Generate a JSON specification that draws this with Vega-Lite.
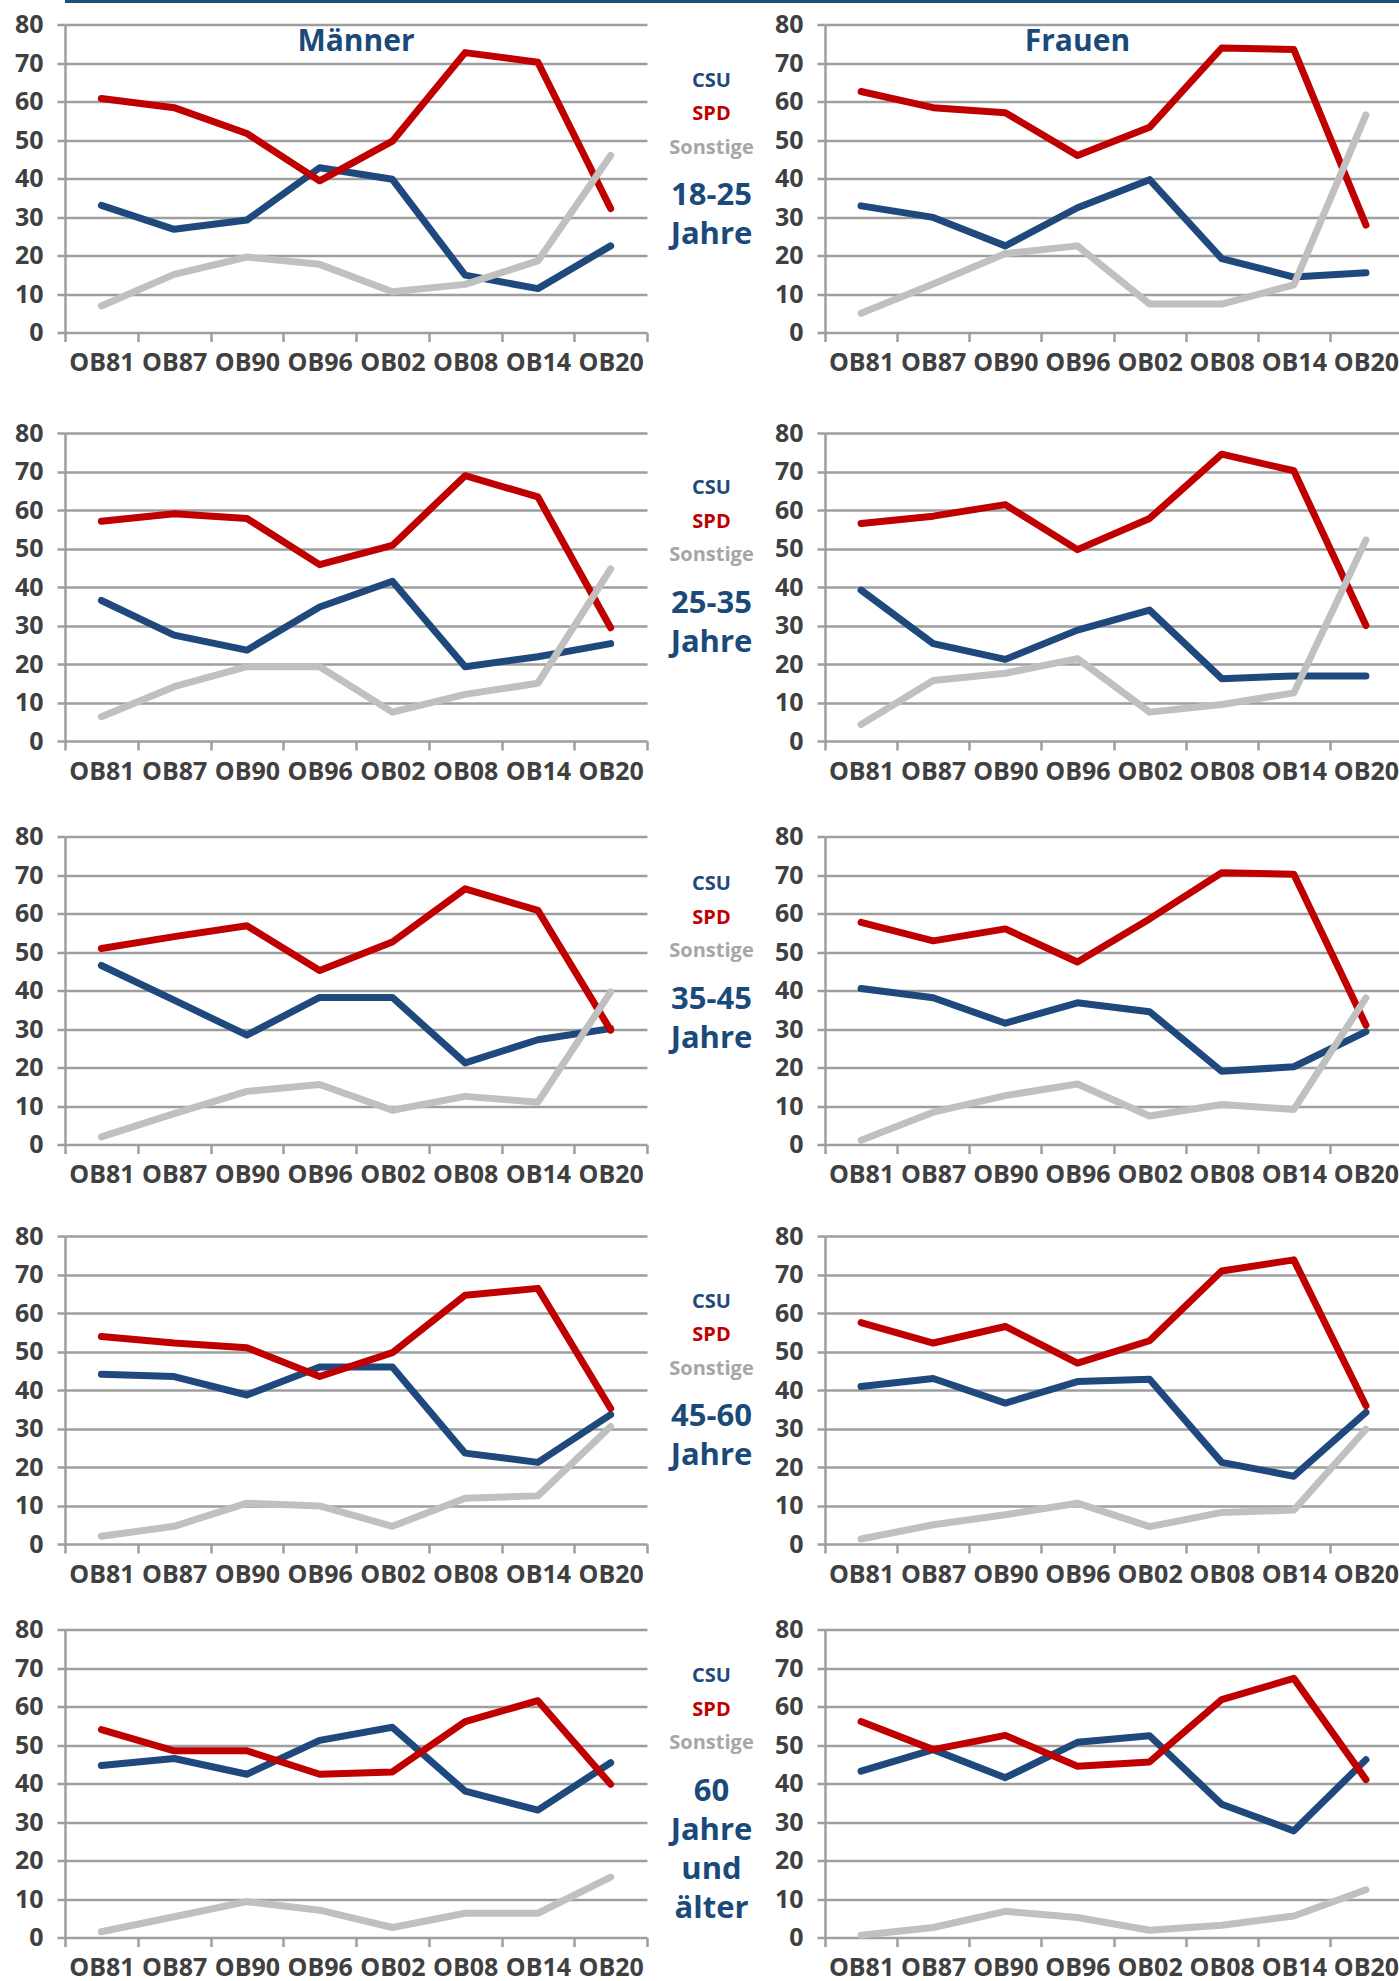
{
  "$schema": "https://vega.github.io/schema/vega-lite/v6.json",
  "padding": {"left": 14, "top": 0, "right": 0, "bottom": 0},
  "config": {
    "font": "Open Sans",
    "view": {"stroke": null},
    "axis": {"labelFont": "Open Sans", "labelFontSize": 25, "labelFontWeight": "bold", "labelColor": "#404040", "title": null, "gridColor": "#9E9E9E", "gridWidth": 2.5, "domainColor": "#9E9E9E", "domainWidth": 2.5, "tickColor": "#9E9E9E", "tickWidth": 2.5},
    "axisX": {"tickSize": 9, "labelPadding": 9, "tickBand": "extent", "grid": false, "domain": false, "labelAngle": 0, "labelOverlap": false},
    "axisY": {"tickSize": 8, "labelPadding": 14, "grid": true, "domain": true},
    "line": {"strokeWidth": 7, "strokeCap": "round", "strokeJoin": "round"}
  },
  "datasets": {
    "d": [
      {"g":"M","a":"18-25","w":"OB81","CSU":33.0,"SPD":60.8,"Sonstige":6.9},
      {"g":"M","a":"18-25","w":"OB87","CSU":26.8,"SPD":58.4,"Sonstige":15.1},
      {"g":"M","a":"18-25","w":"OB90","CSU":29.2,"SPD":51.7,"Sonstige":19.6},
      {"g":"M","a":"18-25","w":"OB96","CSU":42.8,"SPD":39.4,"Sonstige":17.7},
      {"g":"M","a":"18-25","w":"OB02","CSU":39.8,"SPD":49.7,"Sonstige":10.6},
      {"g":"M","a":"18-25","w":"OB08","CSU":14.9,"SPD":72.7,"Sonstige":12.5},
      {"g":"M","a":"18-25","w":"OB14","CSU":11.4,"SPD":70.2,"Sonstige":18.6},
      {"g":"M","a":"18-25","w":"OB20","CSU":22.5,"SPD":32.2,"Sonstige":46.0},
      {"g":"F","a":"18-25","w":"OB81","CSU":32.9,"SPD":62.6,"Sonstige":5.0},
      {"g":"F","a":"18-25","w":"OB87","CSU":29.9,"SPD":58.4,"Sonstige":12.6},
      {"g":"F","a":"18-25","w":"OB90","CSU":22.5,"SPD":57.1,"Sonstige":20.5},
      {"g":"F","a":"18-25","w":"OB96","CSU":32.4,"SPD":46.0,"Sonstige":22.5},
      {"g":"F","a":"18-25","w":"OB02","CSU":39.7,"SPD":53.3,"Sonstige":7.4},
      {"g":"F","a":"18-25","w":"OB08","CSU":19.2,"SPD":73.9,"Sonstige":7.4},
      {"g":"F","a":"18-25","w":"OB14","CSU":14.4,"SPD":73.5,"Sonstige":12.4},
      {"g":"F","a":"18-25","w":"OB20","CSU":15.5,"SPD":27.9,"Sonstige":56.5},
      {"g":"M","a":"25-35","w":"OB81","CSU":36.5,"SPD":57.1,"Sonstige":6.3},
      {"g":"M","a":"25-35","w":"OB87","CSU":27.5,"SPD":59.0,"Sonstige":14.1},
      {"g":"M","a":"25-35","w":"OB90","CSU":23.6,"SPD":57.8,"Sonstige":19.3},
      {"g":"M","a":"25-35","w":"OB96","CSU":34.8,"SPD":45.8,"Sonstige":19.3},
      {"g":"M","a":"25-35","w":"OB02","CSU":41.5,"SPD":50.8,"Sonstige":7.5},
      {"g":"M","a":"25-35","w":"OB08","CSU":19.3,"SPD":68.9,"Sonstige":12.1},
      {"g":"M","a":"25-35","w":"OB14","CSU":21.9,"SPD":63.4,"Sonstige":15.0},
      {"g":"M","a":"25-35","w":"OB20","CSU":25.3,"SPD":29.4,"Sonstige":44.7},
      {"g":"F","a":"25-35","w":"OB81","CSU":39.2,"SPD":56.5,"Sonstige":4.3},
      {"g":"F","a":"25-35","w":"OB87","CSU":25.3,"SPD":58.4,"Sonstige":15.7},
      {"g":"F","a":"25-35","w":"OB90","CSU":21.2,"SPD":61.4,"Sonstige":17.6},
      {"g":"F","a":"25-35","w":"OB96","CSU":28.8,"SPD":49.7,"Sonstige":21.4},
      {"g":"F","a":"25-35","w":"OB02","CSU":34.0,"SPD":57.8,"Sonstige":7.5},
      {"g":"F","a":"25-35","w":"OB08","CSU":16.2,"SPD":74.5,"Sonstige":9.5},
      {"g":"F","a":"25-35","w":"OB14","CSU":16.9,"SPD":70.2,"Sonstige":12.5},
      {"g":"F","a":"25-35","w":"OB20","CSU":16.9,"SPD":30.0,"Sonstige":52.2},
      {"g":"M","a":"35-45","w":"OB81","CSU":46.5,"SPD":50.9,"Sonstige":2.0},
      {"g":"M","a":"35-45","w":"OB87","CSU":37.5,"SPD":54.0,"Sonstige":8.0},
      {"g":"M","a":"35-45","w":"OB90","CSU":28.4,"SPD":56.8,"Sonstige":13.8},
      {"g":"M","a":"35-45","w":"OB96","CSU":38.2,"SPD":45.2,"Sonstige":15.6},
      {"g":"M","a":"35-45","w":"OB02","CSU":38.2,"SPD":52.6,"Sonstige":8.9},
      {"g":"M","a":"35-45","w":"OB08","CSU":21.2,"SPD":66.4,"Sonstige":12.5},
      {"g":"M","a":"35-45","w":"OB14","CSU":27.2,"SPD":60.8,"Sonstige":11.0},
      {"g":"M","a":"35-45","w":"OB20","CSU":30.1,"SPD":29.7,"Sonstige":39.6},
      {"g":"F","a":"35-45","w":"OB81","CSU":40.5,"SPD":57.7,"Sonstige":1.1},
      {"g":"F","a":"35-45","w":"OB87","CSU":38.1,"SPD":52.9,"Sonstige":8.4},
      {"g":"F","a":"35-45","w":"OB90","CSU":31.5,"SPD":56.0,"Sonstige":12.7},
      {"g":"F","a":"35-45","w":"OB96","CSU":36.8,"SPD":47.4,"Sonstige":15.7},
      {"g":"F","a":"35-45","w":"OB02","CSU":34.5,"SPD":58.6,"Sonstige":7.4},
      {"g":"F","a":"35-45","w":"OB08","CSU":19.0,"SPD":70.6,"Sonstige":10.4},
      {"g":"F","a":"35-45","w":"OB14","CSU":20.2,"SPD":70.2,"Sonstige":9.1},
      {"g":"F","a":"35-45","w":"OB20","CSU":29.3,"SPD":31.0,"Sonstige":38.1},
      {"g":"M","a":"45-60","w":"OB81","CSU":44.1,"SPD":53.9,"Sonstige":2.0},
      {"g":"M","a":"45-60","w":"OB87","CSU":43.5,"SPD":52.2,"Sonstige":4.6},
      {"g":"M","a":"45-60","w":"OB90","CSU":38.7,"SPD":51.0,"Sonstige":10.6},
      {"g":"M","a":"45-60","w":"OB96","CSU":46.0,"SPD":43.5,"Sonstige":9.9},
      {"g":"M","a":"45-60","w":"OB02","CSU":46.0,"SPD":49.7,"Sonstige":4.6},
      {"g":"M","a":"45-60","w":"OB08","CSU":23.6,"SPD":64.6,"Sonstige":11.9},
      {"g":"M","a":"45-60","w":"OB14","CSU":21.2,"SPD":66.4,"Sonstige":12.5},
      {"g":"M","a":"45-60","w":"OB20","CSU":33.6,"SPD":35.2,"Sonstige":30.5},
      {"g":"F","a":"45-60","w":"OB81","CSU":40.9,"SPD":57.5,"Sonstige":1.3},
      {"g":"F","a":"45-60","w":"OB87","CSU":43.0,"SPD":52.2,"Sonstige":5.0},
      {"g":"F","a":"45-60","w":"OB90","CSU":36.6,"SPD":56.5,"Sonstige":7.6},
      {"g":"F","a":"45-60","w":"OB96","CSU":42.2,"SPD":47.0,"Sonstige":10.6},
      {"g":"F","a":"45-60","w":"OB02","CSU":42.8,"SPD":52.8,"Sonstige":4.5},
      {"g":"F","a":"45-60","w":"OB08","CSU":21.2,"SPD":70.9,"Sonstige":8.2},
      {"g":"F","a":"45-60","w":"OB14","CSU":17.6,"SPD":73.8,"Sonstige":8.8},
      {"g":"F","a":"45-60","w":"OB20","CSU":34.2,"SPD":35.9,"Sonstige":29.8},
      {"g":"M","a":"60+","w":"OB81","CSU":44.7,"SPD":54.0,"Sonstige":1.5},
      {"g":"M","a":"60+","w":"OB87","CSU":46.5,"SPD":48.5,"Sonstige":5.4},
      {"g":"M","a":"60+","w":"OB90","CSU":42.4,"SPD":48.5,"Sonstige":9.3},
      {"g":"M","a":"60+","w":"OB96","CSU":51.2,"SPD":42.4,"Sonstige":7.1},
      {"g":"M","a":"60+","w":"OB02","CSU":54.6,"SPD":43.0,"Sonstige":2.6},
      {"g":"M","a":"60+","w":"OB08","CSU":38.0,"SPD":56.1,"Sonstige":6.3},
      {"g":"M","a":"60+","w":"OB14","CSU":33.1,"SPD":61.5,"Sonstige":6.3},
      {"g":"M","a":"60+","w":"OB20","CSU":45.4,"SPD":39.8,"Sonstige":15.7},
      {"g":"F","a":"60+","w":"OB81","CSU":43.2,"SPD":56.1,"Sonstige":0.6},
      {"g":"F","a":"60+","w":"OB87","CSU":48.8,"SPD":48.8,"Sonstige":2.6},
      {"g":"F","a":"60+","w":"OB90","CSU":41.5,"SPD":52.5,"Sonstige":6.8},
      {"g":"F","a":"60+","w":"OB96","CSU":50.7,"SPD":44.5,"Sonstige":5.2},
      {"g":"F","a":"60+","w":"OB02","CSU":52.4,"SPD":45.6,"Sonstige":1.9},
      {"g":"F","a":"60+","w":"OB08","CSU":34.6,"SPD":61.8,"Sonstige":3.2},
      {"g":"F","a":"60+","w":"OB14","CSU":27.7,"SPD":67.3,"Sonstige":5.6},
      {"g":"F","a":"60+","w":"OB20","CSU":46.2,"SPD":41.0,"Sonstige":12.4}
    ]
  },
  "spacing": 9.5,
  "vconcat": [
    {"width": 1385, "height": 3, "data": {"values": [{}]}, "mark": {"type": "rect", "color": "#1F4E79"}, "encoding": {}},
    {"spacing": 45.5, "vconcat": [
      {"spacing": 10, "hconcat": [
        {"width": 582, "height": 308, "layer": [
          {"data": {"name": "d"}, "transform": [{"filter": "datum.g == 'M' && datum.a == '18-25'"}, {"fold": ["CSU", "SPD", "Sonstige"], "as": ["partei", "anteil"]}],
           "mark": "line",
           "encoding": {
             "x": {"field": "w", "type": "ordinal", "sort": ["OB81","OB87","OB90","OB96","OB02","OB08","OB14","OB20"], "scale": {"type": "band", "paddingInner": 0, "paddingOuter": 0}, "bandPosition": 0.5, "axis": {"title": null}},
             "y": {"field": "anteil", "type": "quantitative", "scale": {"domain": [0, 80], "nice": false}, "axis": {"title": null, "values": [0,10,20,30,40,50,60,70,80]}},
             "color": {"field": "partei", "type": "nominal", "scale": {"domain": ["CSU","SPD","Sonstige"], "range": ["#1F497D","#C00000","#C0C0C0"]}, "legend": null}}},
          {"data": {"values": [{"titel": "Männer"}]},
           "mark": {"type": "text", "fontSize": 30, "fontWeight": "bold", "color": "#1A4A7A", "align": "center", "baseline": "middle"},
           "encoding": {"y": {"datum": 75.4, "type": "quantitative", "scale": {"domain": [0, 80], "nice": false}, "axis": {"title": null, "values": [0,10,20,30,40,50,60,70,80]}}, "text": {"field": "titel"}}}
        ]},
        {"width": 105, "height": 167.5, "layer": [
          {"data": {"values": [{"item": "CSU"}, {"item": "SPD"}, {"item": "Sonstige"}]},
           "mark": {"type": "text", "fontSize": 20, "fontWeight": "bold", "baseline": "middle", "align": "center"},
           "encoding": {"y": {"field": "item", "type": "nominal", "scale": {"type": "point", "domain": ["CSU","SPD","Sonstige","Alter"], "padding": 1, "align": 0.836}, "axis": null},
             "text": {"field": "item"},
             "color": {"condition": [{"test": "datum.item == 'CSU'", "value": "#1F497D"}, {"test": "datum.item == 'SPD'", "value": "#C00000"}], "value": "#A6A6A6"}}},
          {"data": {"values": [{"item": "Alter", "label": "18-25|Jahre"}]},
           "mark": {"type": "text", "fontSize": 31, "fontWeight": "bold", "baseline": "top", "align": "center", "lineBreak": "|", "lineHeight": 39, "color": "#1A4A7A"},
           "encoding": {"y": {"field": "item", "type": "nominal", "axis": null}, "text": {"field": "label"}}}
        ]},
        {"width": 577, "height": 308, "layer": [
          {"data": {"name": "d"}, "transform": [{"filter": "datum.g == 'F' && datum.a == '18-25'"}, {"fold": ["CSU", "SPD", "Sonstige"], "as": ["partei", "anteil"]}],
           "mark": "line",
           "encoding": {
             "x": {"field": "w", "type": "ordinal", "sort": ["OB81","OB87","OB90","OB96","OB02","OB08","OB14","OB20"], "scale": {"type": "band", "paddingInner": 0, "paddingOuter": 0}, "bandPosition": 0.5, "axis": {"title": null}},
             "y": {"field": "anteil", "type": "quantitative", "scale": {"domain": [0, 80], "nice": false}, "axis": {"title": null, "values": [0,10,20,30,40,50,60,70,80]}},
             "color": {"field": "partei", "type": "nominal", "scale": {"domain": ["CSU","SPD","Sonstige"], "range": ["#1F497D","#C00000","#C0C0C0"]}, "legend": null}}},
          {"data": {"values": [{"titel": "Frauen", "w": "OB96"}]},
           "mark": {"type": "text", "fontSize": 30, "fontWeight": "bold", "color": "#1A4A7A", "align": "center", "baseline": "middle"},
           "encoding": {"x": {"field": "w", "type": "ordinal", "sort": ["OB81","OB87","OB90","OB96","OB02","OB08","OB14","OB20"], "scale": {"type": "band", "paddingInner": 0, "paddingOuter": 0}, "bandPosition": 0.5, "axis": {"title": null}},
             "y": {"datum": 75.4, "type": "quantitative", "scale": {"domain": [0, 80], "nice": false}, "axis": {"title": null, "values": [0,10,20,30,40,50,60,70,80]}}, "text": {"field": "titel"}}}
        ]}
      ]},
      {"spacing": 40.5, "vconcat": [
        {"spacing": 10, "hconcat": [
          {"width": 582, "height": 308,
           "data": {"name": "d"}, "transform": [{"filter": "datum.g == 'M' && datum.a == '25-35'"}, {"fold": ["CSU", "SPD", "Sonstige"], "as": ["partei", "anteil"]}],
           "mark": "line",
           "encoding": {
             "x": {"field": "w", "type": "ordinal", "sort": ["OB81","OB87","OB90","OB96","OB02","OB08","OB14","OB20"], "scale": {"type": "band", "paddingInner": 0, "paddingOuter": 0}, "bandPosition": 0.5, "axis": {"title": null}},
             "y": {"field": "anteil", "type": "quantitative", "scale": {"domain": [0, 80], "nice": false}, "axis": {"title": null, "values": [0,10,20,30,40,50,60,70,80]}},
             "color": {"field": "partei", "type": "nominal", "scale": {"domain": ["CSU","SPD","Sonstige"], "range": ["#1F497D","#C00000","#C0C0C0"]}, "legend": null}}},
          {"width": 105, "height": 167.5, "layer": [
            {"data": {"values": [{"item": "CSU"}, {"item": "SPD"}, {"item": "Sonstige"}]},
             "mark": {"type": "text", "fontSize": 20, "fontWeight": "bold", "baseline": "middle", "align": "center"},
             "encoding": {"y": {"field": "item", "type": "nominal", "scale": {"type": "point", "domain": ["CSU","SPD","Sonstige","Alter"], "padding": 1, "align": 0.821}, "axis": null},
               "text": {"field": "item"},
               "color": {"condition": [{"test": "datum.item == 'CSU'", "value": "#1F497D"}, {"test": "datum.item == 'SPD'", "value": "#C00000"}], "value": "#A6A6A6"}}},
            {"data": {"values": [{"item": "Alter", "label": "25-35|Jahre"}]},
             "mark": {"type": "text", "fontSize": 31, "fontWeight": "bold", "baseline": "top", "align": "center", "lineBreak": "|", "lineHeight": 39, "color": "#1A4A7A"},
             "encoding": {"y": {"field": "item", "type": "nominal", "axis": null}, "text": {"field": "label"}}}
          ]},
          {"width": 577, "height": 308,
           "data": {"name": "d"}, "transform": [{"filter": "datum.g == 'F' && datum.a == '25-35'"}, {"fold": ["CSU", "SPD", "Sonstige"], "as": ["partei", "anteil"]}],
           "mark": "line",
           "encoding": {
             "x": {"field": "w", "type": "ordinal", "sort": ["OB81","OB87","OB90","OB96","OB02","OB08","OB14","OB20"], "scale": {"type": "band", "paddingInner": 0, "paddingOuter": 0}, "bandPosition": 0.5, "axis": {"title": null}},
             "y": {"field": "anteil", "type": "quantitative", "scale": {"domain": [0, 80], "nice": false}, "axis": {"title": null, "values": [0,10,20,30,40,50,60,70,80]}},
             "color": {"field": "partei", "type": "nominal", "scale": {"domain": ["CSU","SPD","Sonstige"], "range": ["#1F497D","#C00000","#C0C0C0"]}, "legend": null}}}
        ]},
        {"spacing": 36.5, "vconcat": [
          {"spacing": 10, "hconcat": [
            {"width": 582, "height": 308,
             "data": {"name": "d"}, "transform": [{"filter": "datum.g == 'M' && datum.a == '35-45'"}, {"fold": ["CSU", "SPD", "Sonstige"], "as": ["partei", "anteil"]}],
             "mark": "line",
             "encoding": {
               "x": {"field": "w", "type": "ordinal", "sort": ["OB81","OB87","OB90","OB96","OB02","OB08","OB14","OB20"], "scale": {"type": "band", "paddingInner": 0, "paddingOuter": 0}, "bandPosition": 0.5, "axis": {"title": null}},
               "y": {"field": "anteil", "type": "quantitative", "scale": {"domain": [0, 80], "nice": false}, "axis": {"title": null, "values": [0,10,20,30,40,50,60,70,80]}},
               "color": {"field": "partei", "type": "nominal", "scale": {"domain": ["CSU","SPD","Sonstige"], "range": ["#1F497D","#C00000","#C0C0C0"]}, "legend": null}}},
            {"width": 105, "height": 167.5, "layer": [
              {"data": {"values": [{"item": "CSU"}, {"item": "SPD"}, {"item": "Sonstige"}]},
               "mark": {"type": "text", "fontSize": 20, "fontWeight": "bold", "baseline": "middle", "align": "center"},
               "encoding": {"y": {"field": "item", "type": "nominal", "scale": {"type": "point", "domain": ["CSU","SPD","Sonstige","Alter"], "padding": 1, "align": 0.716}, "axis": null},
                 "text": {"field": "item"},
                 "color": {"condition": [{"test": "datum.item == 'CSU'", "value": "#1F497D"}, {"test": "datum.item == 'SPD'", "value": "#C00000"}], "value": "#A6A6A6"}}},
              {"data": {"values": [{"item": "Alter", "label": "35-45|Jahre"}]},
               "mark": {"type": "text", "fontSize": 31, "fontWeight": "bold", "baseline": "top", "align": "center", "lineBreak": "|", "lineHeight": 39, "color": "#1A4A7A"},
               "encoding": {"y": {"field": "item", "type": "nominal", "axis": null}, "text": {"field": "label"}}}
            ]},
            {"width": 577, "height": 308,
             "data": {"name": "d"}, "transform": [{"filter": "datum.g == 'F' && datum.a == '35-45'"}, {"fold": ["CSU", "SPD", "Sonstige"], "as": ["partei", "anteil"]}],
             "mark": "line",
             "encoding": {
               "x": {"field": "w", "type": "ordinal", "sort": ["OB81","OB87","OB90","OB96","OB02","OB08","OB14","OB20"], "scale": {"type": "band", "paddingInner": 0, "paddingOuter": 0}, "bandPosition": 0.5, "axis": {"title": null}},
               "y": {"field": "anteil", "type": "quantitative", "scale": {"domain": [0, 80], "nice": false}, "axis": {"title": null, "values": [0,10,20,30,40,50,60,70,80]}},
               "color": {"field": "partei", "type": "nominal", "scale": {"domain": ["CSU","SPD","Sonstige"], "range": ["#1F497D","#C00000","#C0C0C0"]}, "legend": null}}}
          ]},
          {"spacing": 30.5, "vconcat": [
            {"spacing": 10, "hconcat": [
              {"width": 582, "height": 308,
               "data": {"name": "d"}, "transform": [{"filter": "datum.g == 'M' && datum.a == '45-60'"}, {"fold": ["CSU", "SPD", "Sonstige"], "as": ["partei", "anteil"]}],
               "mark": "line",
               "encoding": {
                 "x": {"field": "w", "type": "ordinal", "sort": ["OB81","OB87","OB90","OB96","OB02","OB08","OB14","OB20"], "scale": {"type": "band", "paddingInner": 0, "paddingOuter": 0}, "bandPosition": 0.5, "axis": {"title": null}},
                 "y": {"field": "anteil", "type": "quantitative", "scale": {"domain": [0, 80], "nice": false}, "axis": {"title": null, "values": [0,10,20,30,40,50,60,70,80]}},
                 "color": {"field": "partei", "type": "nominal", "scale": {"domain": ["CSU","SPD","Sonstige"], "range": ["#1F497D","#C00000","#C0C0C0"]}, "legend": null}}},
              {"width": 105, "height": 167.5, "layer": [
                {"data": {"values": [{"item": "CSU"}, {"item": "SPD"}, {"item": "Sonstige"}]},
                 "mark": {"type": "text", "fontSize": 20, "fontWeight": "bold", "baseline": "middle", "align": "center"},
                 "encoding": {"y": {"field": "item", "type": "nominal", "scale": {"type": "point", "domain": ["CSU","SPD","Sonstige","Alter"], "padding": 1, "align": 0.985}, "axis": null},
                   "text": {"field": "item"},
                   "color": {"condition": [{"test": "datum.item == 'CSU'", "value": "#1F497D"}, {"test": "datum.item == 'SPD'", "value": "#C00000"}], "value": "#A6A6A6"}}},
                {"data": {"values": [{"item": "Alter", "label": "45-60|Jahre"}]},
                 "mark": {"type": "text", "fontSize": 31, "fontWeight": "bold", "baseline": "top", "align": "center", "lineBreak": "|", "lineHeight": 39, "color": "#1A4A7A"},
                 "encoding": {"y": {"field": "item", "type": "nominal", "axis": null}, "text": {"field": "label"}}}
              ]},
              {"width": 577, "height": 308,
               "data": {"name": "d"}, "transform": [{"filter": "datum.g == 'F' && datum.a == '45-60'"}, {"fold": ["CSU", "SPD", "Sonstige"], "as": ["partei", "anteil"]}],
               "mark": "line",
               "encoding": {
                 "x": {"field": "w", "type": "ordinal", "sort": ["OB81","OB87","OB90","OB96","OB02","OB08","OB14","OB20"], "scale": {"type": "band", "paddingInner": 0, "paddingOuter": 0}, "bandPosition": 0.5, "axis": {"title": null}},
                 "y": {"field": "anteil", "type": "quantitative", "scale": {"domain": [0, 80], "nice": false}, "axis": {"title": null, "values": [0,10,20,30,40,50,60,70,80]}},
                 "color": {"field": "partei", "type": "nominal", "scale": {"domain": ["CSU","SPD","Sonstige"], "range": ["#1F497D","#C00000","#C0C0C0"]}, "legend": null}}}
            ]},
            {"spacing": 10, "hconcat": [
              {"width": 582, "height": 308,
               "data": {"name": "d"}, "transform": [{"filter": "datum.g == 'M' && datum.a == '60+'"}, {"fold": ["CSU", "SPD", "Sonstige"], "as": ["partei", "anteil"]}],
               "mark": "line",
               "encoding": {
                 "x": {"field": "w", "type": "ordinal", "sort": ["OB81","OB87","OB90","OB96","OB02","OB08","OB14","OB20"], "scale": {"type": "band", "paddingInner": 0, "paddingOuter": 0}, "bandPosition": 0.5, "axis": {"title": null}},
                 "y": {"field": "anteil", "type": "quantitative", "scale": {"domain": [0, 80], "nice": false}, "axis": {"title": null, "values": [0,10,20,30,40,50,60,70,80]}},
                 "color": {"field": "partei", "type": "nominal", "scale": {"domain": ["CSU","SPD","Sonstige"], "range": ["#1F497D","#C00000","#C0C0C0"]}, "legend": null}}},
              {"width": 105, "height": 167.5, "layer": [
                {"data": {"values": [{"item": "CSU"}, {"item": "SPD"}, {"item": "Sonstige"}]},
                 "mark": {"type": "text", "fontSize": 20, "fontWeight": "bold", "baseline": "middle", "align": "center"},
                 "encoding": {"y": {"field": "item", "type": "nominal", "scale": {"type": "point", "domain": ["CSU","SPD","Sonstige","Alter"], "padding": 1, "align": 0.701}, "axis": null},
                   "text": {"field": "item"},
                   "color": {"condition": [{"test": "datum.item == 'CSU'", "value": "#1F497D"}, {"test": "datum.item == 'SPD'", "value": "#C00000"}], "value": "#A6A6A6"}}},
                {"data": {"values": [{"item": "Alter", "label": "60|Jahre|und|älter"}]},
                 "mark": {"type": "text", "fontSize": 31, "fontWeight": "bold", "baseline": "top", "align": "center", "lineBreak": "|", "lineHeight": 39, "color": "#1A4A7A"},
                 "encoding": {"y": {"field": "item", "type": "nominal", "axis": null}, "text": {"field": "label"}}}
              ]},
              {"width": 577, "height": 308,
               "data": {"name": "d"}, "transform": [{"filter": "datum.g == 'F' && datum.a == '60+'"}, {"fold": ["CSU", "SPD", "Sonstige"], "as": ["partei", "anteil"]}],
               "mark": "line",
               "encoding": {
                 "x": {"field": "w", "type": "ordinal", "sort": ["OB81","OB87","OB90","OB96","OB02","OB08","OB14","OB20"], "scale": {"type": "band", "paddingInner": 0, "paddingOuter": 0}, "bandPosition": 0.5, "axis": {"title": null}},
                 "y": {"field": "anteil", "type": "quantitative", "scale": {"domain": [0, 80], "nice": false}, "axis": {"title": null, "values": [0,10,20,30,40,50,60,70,80]}},
                 "color": {"field": "partei", "type": "nominal", "scale": {"domain": ["CSU","SPD","Sonstige"], "range": ["#1F497D","#C00000","#C0C0C0"]}, "legend": null}}}
            ]}
          ]}
        ]}
      ]}
    ]}
  ]
}
